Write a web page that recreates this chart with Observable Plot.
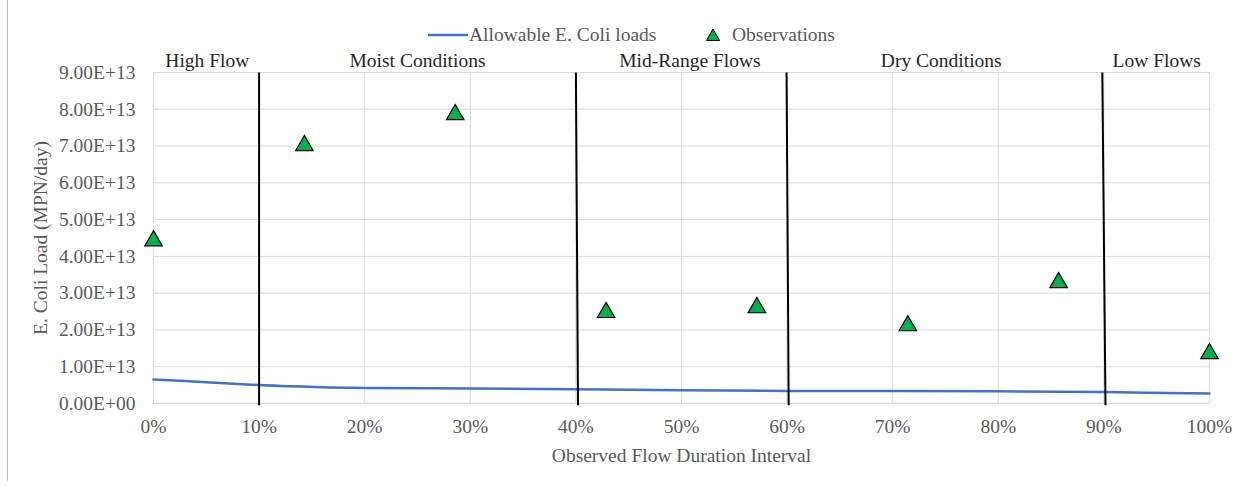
<!DOCTYPE html>
<html>
<head>
<meta charset="utf-8">
<script src="https://cdn.jsdelivr.net/npm/d3@7"></script>
<script src="https://cdn.jsdelivr.net/npm/@observablehq/plot@0.6"></script>
<style>
  html, body { margin: 0; padding: 0; background: #fff; }
  body { width: 1251px; height: 486px; position: relative; overflow: hidden; font-family: "Liberation Serif", "Times New Roman", serif; }
  #frame { position: absolute; left: 7px; top: 0; width: 0; height: 481px; border-left: 1px solid #bfbfbf; z-index: 10; }
  #legend { height: 50px; position: relative; color: #595959; font-size: 19.5px; }
  #legend .item { position: absolute; top: 24px; display: flex; align-items: center; white-space: nowrap; }
  #chart { position: relative; }
</style>
</head>
<body>
<div id="frame"></div>
<div id="legend">
  <div class="item" style="left:428px"><svg width="40" height="10"><line x1="0" y1="5" x2="40" y2="5" stroke="#4472c4" stroke-width="2.5"/></svg><span style="margin-left:1px">Allowable E. Coli loads</span></div>
  <div class="item" style="left:705px"><svg width="16" height="16"><path d="M8,2 L14.5,13.5 L1.5,13.5 Z" fill="#00b050" stroke="#000" stroke-width="1"/></svg><span style="margin-left:11px">Observations</span></div>
</div>
<div id="chart"></div>
<script>
// Allowable load curve (flow duration %, MPN/day)
const loadX = [0, 5, 10, 13, 16, 20, 30, 40, 50, 60, 70, 80, 90, 100];
const loadY = [0.65e13, 0.58e13, 0.50e13, 0.47e13, 0.44e13, 0.42e13, 0.41e13, 0.39e13, 0.36e13, 0.34e13, 0.34e13, 0.33e13, 0.31e13, 0.27e13];

// Observations
const obsX = [0, 14.29, 28.57, 42.86, 57.14, 71.43, 85.71, 100];
const obsY = [4.48e13, 7.07e13, 7.91e13, 2.53e13, 2.66e13, 2.17e13, 3.34e13, 1.41e13];

// Flow zone boundaries (top and bottom x) and labels
const boundTop = [10, 40, 59.95, 89.85];
const boundBottom = [10, 40.2, 60.15, 90.15];
const zoneNames = ["High Flow", "Moist Conditions", "Mid-Range Flows", "Dry Conditions", "Low Flows"];
const zoneCenters = [5.1, 25, 50.8, 74.6, 95];

// Ticks
const xTicks = [0, 10, 20, 30, 40, 50, 60, 70, 80, 90, 100];
const yTicks = [0, 1e13, 2e13, 3e13, 4e13, 5e13, 6e13, 7e13, 8e13, 9e13];

const loadData = loadX.map((x, i) => ({x, y: loadY[i]}));
const obsData = obsX.map((x, i) => ({x, y: obsY[i]}));
const bounds = boundTop.map((x, i) => ({x1: x, x2: boundBottom[i]}));
const zones = zoneNames.map((name, i) => ({name, x: zoneCenters[i]}));

const yFmt = v => v === 0 ? "0.00E+00" : (v / 1e13).toFixed(2) + "E+13";
const xFmt = d => d + "%";
const FS = 19.5;

const chart = Plot.plot({
  width: 1251,
  height: 436,
  marginLeft: 153,
  marginRight: 42,
  marginTop: 22,
  marginBottom: 83,
  style: { fontFamily: "Liberation Serif, Times New Roman, serif", fontSize: FS + "px", color: "#595959", background: "transparent" },
  x: { domain: [0, 100] },
  y: { domain: [0, 9e13] },
  marks: [
    Plot.gridX(xTicks, { stroke: "#d9d9d9", strokeOpacity: 1, strokeWidth: 1 }),
    Plot.gridY(yTicks, { stroke: "#d9d9d9", strokeOpacity: 1, strokeWidth: 1 }),
    Plot.ruleY([0], { stroke: "#d9d9d9", strokeWidth: 1.5 }),
    Plot.axisX({ ticks: xTicks, tickFormat: xFmt, tickSize: 0, tickPadding: 16, fill: "#595959", fontSize: FS,
      label: "Observed Flow Duration Interval", labelAnchor: "center", labelArrow: "none", labelOffset: 58 }),
    Plot.axisY({ ticks: yTicks, tickFormat: yFmt, tickSize: 0, tickPadding: 18, fill: "#595959", fontSize: FS,
      label: "E. Coli Load (MPN/day)", labelAnchor: "center", labelArrow: "none", labelOffset: 120 }),
    Plot.line(loadData, { x: "x", y: "y", stroke: "#4472c4", strokeWidth: 2.5, curve: "catmull-rom" }),
    Plot.link(bounds, { x1: "x1", x2: "x2", y1: () => 9e13, y2: () => -0.05e13, stroke: "#000", strokeWidth: 2 }),
    Plot.text(zones, { x: "x", y: () => 9e13, text: "name", dy: -12, fill: "#262626", fontSize: FS }),
    Plot.dot(obsData, { x: "x", y: "y", symbol: "triangle", r: 6.5, dy: 2, fill: "#00b050", stroke: "#000", strokeWidth: 1.2 })
  ]
});
document.getElementById("chart").appendChild(chart);
</script>
</body>
</html>
